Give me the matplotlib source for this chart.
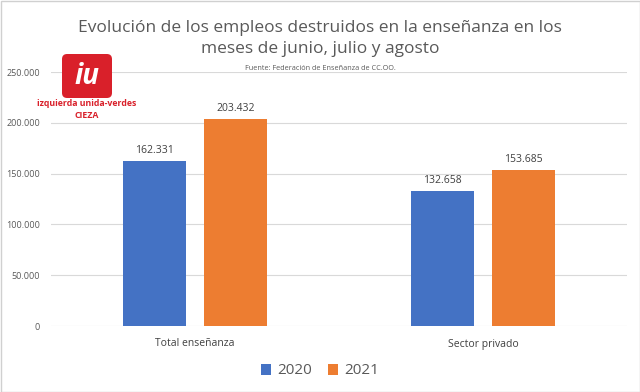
import matplotlib
matplotlib.use("Agg")
import matplotlib.pyplot as plt
from matplotlib.patches import FancyBboxPatch, Rectangle
import numpy as np

categories = ["Total enseñanza", "Sector privado"]
years = ["2020", "2021"]
values_2020 = [162331, 132658]
values_2021 = [203432, 153685]
yticks = [0, 50000, 100000, 150000, 200000, 250000]
colors = ["#4472C4", "#ED7D31"]

def fmt(v):
    return f"{v:,}".replace(",", ".")

plt.rcParams['font.family'] = ['Open Sans', 'DejaVu Sans']
fig = plt.figure(figsize=(6.4, 3.92), dpi=100)
W, H = 640, 392
ax = fig.add_axes([51/W, 1-326/H, (627-51)/W, (326-72)/H])

x = np.arange(len(categories))
bw = 0.22
off = 0.141
b1 = ax.bar(x - off, values_2020, bw, color=colors[0], label=years[0], zorder=3)
b2 = ax.bar(x + off, values_2021, bw, color=colors[1], label=years[1], zorder=3)
for bars, vals in ((b1, values_2020), (b2, values_2021)):
    for r, v in zip(bars, vals):
        ax.text(r.get_x() + r.get_width()/2, v + 5000, fmt(v), ha='center', va='bottom',
                fontsize=7.5, color='#404040')

ax.set_xlim(-0.5, 1.5)
ax.set_ylim(0, 250000)
ax.set_yticks(yticks)
ax.set_yticklabels([fmt(v) for v in yticks], fontsize=6.5, color='#595959')
ax.set_xticks(x)
ax.set_xticklabels(categories, fontsize=7.5, color='#404040')
ax.tick_params(length=0, pad=8)
ax.tick_params(axis='x', pad=9)
ax.grid(axis='y', color='#D9D9D9', linewidth=0.8, zorder=0)
for s in ax.spines.values():
    s.set_visible(False)

fig.text(0.5, 1-28/H, "Evolución de los empleos destruidos en la enseñanza en los",
         ha='center', va='center', fontsize=12.5, color='#595959')
fig.text(0.5, 1-49/H, "meses de junio, julio y agosto",
         ha='center', va='center', fontsize=12.5, color='#595959')
fig.text(0.5, 1-68/H, "Fuente: Federación de Enseñanza de CC.OO.",
         ha='center', va='center', fontsize=5.2, color='#595959')

leg = fig.legend(handles=[b1, b2], labels=years, loc='center', bbox_to_anchor=(0.5, 1-371/H),
                 ncol=2, frameon=False, fontsize=11, handlelength=0.7, handleheight=0.7,
                 columnspacing=1.0, handletextpad=0.4)
for t in leg.get_texts():
    t.set_color('#595959')

# logo
logo = FancyBboxPatch((62/W, 1-98/H), 50/W, 44/H, boxstyle="round,pad=0,rounding_size=0.008",
                      transform=fig.transFigure, facecolor='#D9202A', edgecolor='none',
                      mutation_aspect=W/H, zorder=5)
fig.add_artist(logo)
fig.text(87/W, 1-77/H, "iu", ha='center', va='center', fontsize=20, fontweight='bold',
         color='white', style='italic', zorder=6)
fig.text(87/W, 1-104/H, "izquierda unida-verdes", ha='center', va='center', fontsize=6.3,
         fontweight='bold', color='#D9202A', zorder=6)
fig.text(87/W, 1-115/H, "CIEZA", ha='center', va='center', fontsize=6.3,
         fontweight='bold', color='#D9202A', zorder=6)

fig.add_artist(Rectangle((0.5/W, 0.5/H), (W-1)/W, (H-1)/H, transform=fig.transFigure,
                         fill=False, edgecolor='#D0D0D0', linewidth=1))

fig.savefig("out.png", dpi=100)
